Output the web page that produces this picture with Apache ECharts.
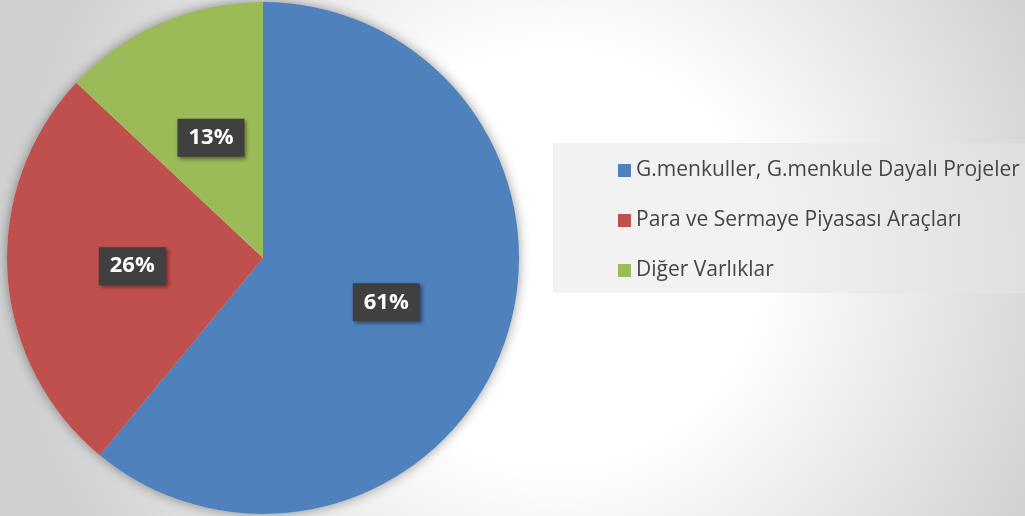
<!DOCTYPE html>
<html>
<head>
<meta charset="utf-8">
<script src="https://cdn.jsdelivr.net/npm/echarts@6/dist/echarts.min.js"></script>
<style>
  html, body { margin: 0; padding: 0; }
  #main { width: 1025px; height: 516px; }
</style>
</head>
<body>
<div id="main"></div>
<script>
const categories = [
  'G.menkuller, G.menkule Dayalı Projeler',
  'Para ve Sermaye Piyasası Araçları',
  'Diğer Varlıklar'
]
const values = [61, 26, 13]
const colors = ['#4f81bd', '#c0504d', '#9bbb59']

const myChart = echarts.init(document.getElementById('main'))

const total = values.reduce((a, b) => a + b, 0)

const option = {
  backgroundColor: new echarts.graphic.RadialGradient(0.54, 0.5, 1.05, [
    { offset: 0, color: '#ffffff' },
    { offset: 0.38, color: '#ffffff' },
    { offset: 1, color: '#d0d0d0' }
  ]),
  animation: false,
  legend: {
    orient: 'vertical',
    left: 553,
    top: 143,
    data: categories,
    backgroundColor: 'rgba(230,230,230,0.5)',
    padding: [17, 40, 12, 65],
    icon: 'rect',
    itemWidth: 13,
    itemHeight: 13,
    itemGap: 29,
    textStyle: {
      fontFamily: 'Open Sans',
      fontSize: 21,
      lineHeight: 20,
      color: '#454545'
    }
  },
  series: [
    // shadow behind the whole pie
    {
      type: 'pie',
      silent: true,
      center: [263, 258],
      radius: 256,
      z: 1,
      label: { show: false },
      itemStyle: {
        color: '#cfcfcf',
        shadowBlur: 12,
        shadowColor: 'rgba(0,0,0,0.4)'
      },
      data: [{ value: total, name: '' }]
    },
    {
      type: 'pie',
      center: [263, 258],
      radius: 256,
      startAngle: 90,
      clockwise: true,
      z: 2,
      label: {
        show: true,
        position: 'inside',
        formatter: '{d}%',
        fontFamily: 'Open Sans',
        fontWeight: 'bold',
        fontSize: 22,
        lineHeight: 22,
        color: '#ffffff',
        backgroundColor: '#404040',
        padding: [8, 11, 8, 11],
        shadowBlur: 4,
        shadowOffsetX: 2,
        shadowOffsetY: 2,
        shadowColor: 'rgba(0,0,0,0.45)'
      },
      labelLine: { show: false },
      itemStyle: { borderWidth: 0 },
      data: categories.map((name, i) => ({
        name: name,
        value: values[i],
        itemStyle: { color: colors[i] }
      }))
    }
  ]
}
myChart.setOption(option)
</script>
</body>
</html>
